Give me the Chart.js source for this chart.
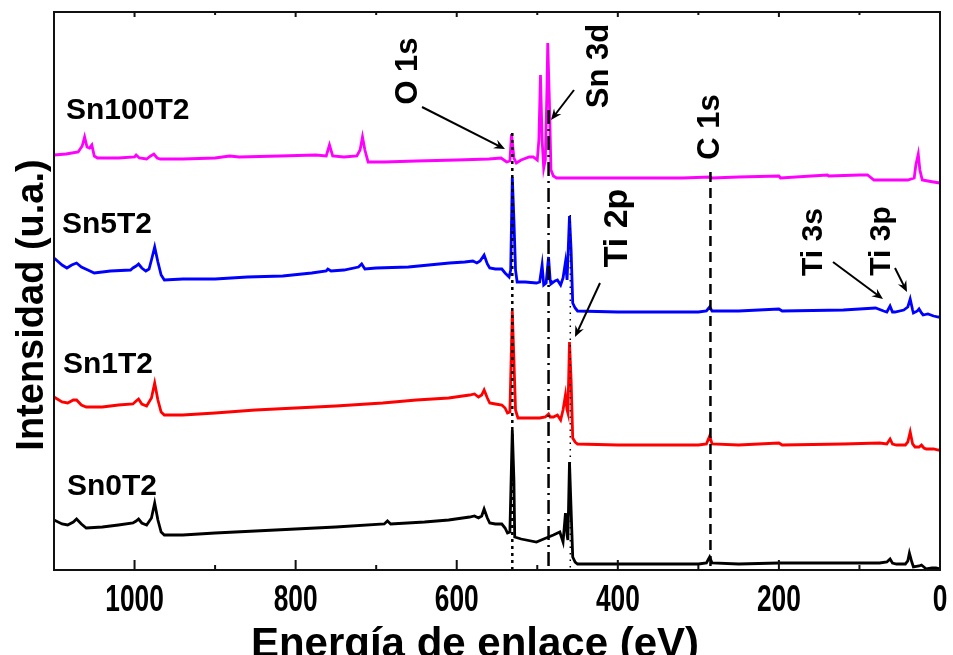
<!DOCTYPE html>
<html>
<head>
<meta charset="utf-8">
<script src="https://cdn.jsdelivr.net/npm/chart.js@4.4.1/dist/chart.umd.min.js"></script>
<style>
  html, body { margin: 0; padding: 0; background: #fff; }
  #xps { display: block; }
</style>
</head>
<body>
<canvas id="xps" width="953" height="655"></canvas>
<script>
// binding energy (eV) vs intensity (a.u., stacked offsets)
const sn100T2 = [[1100,415],[1085,416],[1070,418],[1065,424],[1062,433],[1059,423],[1056,422],[1053,425],[1050,414],[1046,412],[1020,412],[1000,413],[998,415],[994,412],[985,411],[980,414],[976,416],[972,412],[968,411],[940,411],[900,412],[882,414],[870,413],[820,414],[775,415],[762,414],[758,425],[754,414],[740,413],[724,414],[720,420],[717,433],[714,420],[710,408],[690,408],[650,409],[600,410],[560,411],[545,412],[538,408],[534,409],[532,436],[529,412],[526,407],[520,410],[510,413],[505,413],[500,410],[498,430],[496,495],[494,430],[492,402],[490,410],[488,480],[487,527],[485,470],[483,400],[480,394],[476,392],[440,392],[400,392],[320,392],[285,393],[283,392],[250,393],[200,394],[198,392],[140,395],[138,394],[100,395],[90,395],[82,390],[40,390],[32,392],[30,405],[27,416],[25,400],[22,390],[15,389],[8,388],[0,387]];

const sn5T2 = [[1100,312],[1090,305],[1084,302],[1078,305],[1072,307],[1066,303],[1058,300],[1050,297],[1030,299],[1005,300],[1002,302],[998,304],[995,306],[991,302],[986,299],[982,301],[979,310],[975,323],[971,308],[967,295],[963,290],[940,291],[900,291],[860,293],[816,294],[780,297],[762,299],[760,301],[756,299],[740,300],[722,303],[718,306],[714,301],[700,302],[660,303],[609,307],[590,308],[580,309],[575,307],[571,309],[566,315],[562,306],[559,302],[552,301],[544,301],[540,297],[535,293],[533,300],[531,393],[529,350],[527,300],[525,288],[515,288],[501,287],[497,288],[494,305],[492,285],[489,287],[486,313],[484,290],[483,286],[478,289],[475,290],[471,285],[468,292],[465,308],[463,290],[462,290],[460,354],[458,320],[456,267],[453,262],[450,259],[400,258],[300,258],[290,259],[286,263],[283,259],[250,259],[200,261],[196,259],[120,260],[80,262],[70,259],[66,258],[62,264],[59,258],[56,258],[45,260],[40,263],[37,271],[34,260],[33,257],[28,259],[26,261],[23,257],[21,255],[15,256],[8,254],[2,253],[0,253]];

const sn1T2 = [[1100,173],[1090,168],[1083,167],[1076,170],[1072,170],[1066,165],[1060,163],[1040,163],[1020,165],[1002,166],[998,169],[995,171],[991,166],[985,164],[979,172],[975,187],[971,170],[967,158],[963,155],[940,155],[900,157],[850,160],[800,162],[750,164],[692,167],[650,170],[610,172],[584,175],[578,176],[573,173],[569,175],[566,180],[562,172],[559,167],[552,166],[544,165],[540,162],[537,157],[534,158],[531,259],[529,210],[527,160],[524,152],[510,152],[497,152],[490,153],[486,156],[484,153],[480,153],[475,155],[471,150],[468,160],[465,175],[463,160],[462,157],[460,228],[458,190],[456,132],[453,128],[450,126],[400,125],[300,125],[290,126],[286,134],[283,126],[250,125],[200,127],[196,125],[120,126],[75,127],[66,126],[62,131],[59,126],[54,125],[43,125],[40,128],[37,138],[34,126],[31,123],[26,123],[23,125],[20,122],[17,121],[8,121],[2,120],[0,120]];

const sn0T2 = [[1100,50],[1090,46],[1083,45],[1076,48],[1072,51],[1066,46],[1060,42],[1040,43],[1020,45],[1002,47],[998,49],[995,51],[991,47],[985,45],[979,52],[975,67],[971,50],[967,38],[963,35],[940,35],[900,37],[850,39],[800,41],[750,43],[690,46],[686,49],[682,46],[640,48],[610,50],[584,53],[578,54],[573,52],[569,54],[566,61],[562,52],[559,47],[552,46],[544,46],[540,42],[537,37],[534,38],[531,140],[529,90],[528,33],[520,31],[501,28],[495,30],[486,33],[480,35],[472,38],[468,28],[465,57],[463,35],[462,30],[460,108],[458,60],[456,13],[453,8],[450,6],[400,6],[300,6],[290,7],[286,13],[283,7],[250,6],[200,7],[120,7],[75,7],[66,8],[62,11],[59,7],[54,6],[43,6],[40,9],[38,17],[35,8],[33,3],[26,4],[23,5],[20,3],[17,1],[10,2],[5,2],[0,1]];

const seriesNames = ['Sn100T2', 'Sn5T2', 'Sn1T2', 'Sn0T2'];
const seriesColors = ['#ff00ff', '#0000ff', '#ff0000', '#000000'];

// reference lines: peak name, energy (eV), top of line (a.u.)
const peakNames = ['O 1s', 'Sn 3d', 'Ti 2p', 'C 1s'];
const peakEnergies = [531, 486, 459, 285];
const peakLineTops = [437, 460, 355, 398];

const xTickValues = [1000, 800, 600, 400, 200, 0];
const xTitle = 'Energía de enlace (eV)';
const yTitle = 'Intensidad (u.a.)';

const toPoints = arr => arr.map(p => ({ x: p[0], y: p[1] }));

const font = 'Liberation Sans, Arial, sans-serif';

const xpsExtras = {
    id: 'xpsExtras',
    afterDatasetsDraw(chart) {
        const { ctx, chartArea: a, scales: { x, y } } = chart;
        ctx.save();

        // vertical peak lines
        const dashes = [[3, 4], [14, 5, 2, 5], [1.5, 5], [10, 6]];
        const widths = [2.5, 2.5, 1.5, 2.5];
        peakEnergies.forEach((e, i) => {
            const px = x.getPixelForValue(e);
            ctx.beginPath();
            ctx.setLineDash(dashes[i]);
            ctx.lineWidth = widths[i];
            ctx.strokeStyle = '#000';
            ctx.moveTo(px, y.getPixelForValue(peakLineTops[i]));
            ctx.lineTo(px, a.bottom);
            ctx.stroke();
        });
        ctx.setLineDash([]);

        // frame
        ctx.lineWidth = 2;
        ctx.strokeStyle = '#111';
        ctx.strokeRect(a.left, a.top, a.right - a.left, a.bottom - a.top);

        // ticks pointing inward
        for (let v = 0; v <= 1100; v += 100) {
            const px = x.getPixelForValue(v);
            const major = v % 200 === 0;
            ctx.beginPath();
            ctx.moveTo(px, a.bottom);
            ctx.lineTo(px, a.bottom - (major ? 10 : 5));
            ctx.moveTo(px, a.top);
            ctx.lineTo(px, a.top + (major ? 5 : 3));
            ctx.stroke();
        }

        // condensed tick labels on the x scale
        ctx.fillStyle = '#000';
        ctx.textAlign = 'center';
        ctx.textBaseline = 'alphabetic';
        ctx.font = 'bold 36px ' + font;
        xTickValues.forEach(v => {
            ctx.save();
            ctx.translate(x.getPixelForValue(v), 611);
            ctx.scale(0.73, 1);
            ctx.fillText(String(v), 0, 0);
            ctx.restore();
        });

        // axis titles
        ctx.font = 'bold 42px ' + font;
        ctx.fillText(xTitle, 475, 657);
        ctx.save();
        ctx.translate(43, 305);
        ctx.rotate(-Math.PI / 2);
        ctx.font = 'bold 38px ' + font;
        ctx.fillText(yTitle, 0, 0);
        ctx.restore();

        // series labels
        ctx.font = 'bold 30px ' + font;
        ctx.textAlign = 'left';
        const labelPos = [[66, 119], [62, 233], [63, 373], [67, 495]];
        seriesNames.forEach((n, i) => ctx.fillText(n, labelPos[i][0], labelPos[i][1]));

        // rotated peak annotations: text, baseline x, centre y, size
        const notes = [
            ['O 1s', 417, 71, 31],
            ['Sn 3d', 608, 66, 31],
            ['C 1s', 719, 127, 31],
            ['Ti 2p', 627, 228, 34],
            ['Ti 3s', 822, 242, 30],
            ['Ti 3p', 890, 241, 30]
        ];
        ctx.textAlign = 'center';
        notes.forEach(([t, bx, cy, s]) => {
            ctx.save();
            ctx.translate(bx, cy);
            ctx.rotate(-Math.PI / 2);
            ctx.font = 'bold ' + s + 'px ' + font;
            ctx.fillText(t, 0, 0);
            ctx.restore();
        });

        // arrows
        const arrows = [
            [422, 107, 505, 149],
            [574, 90, 551, 120],
            [600, 283, 575, 337],
            [833, 262, 883, 299],
            [895, 268, 907, 292]
        ];
        ctx.lineWidth = 2;
        ctx.strokeStyle = '#000';
        arrows.forEach(([x1, y1, x2, y2]) => {
            const ang = Math.atan2(y2 - y1, x2 - x1);
            const hl = 12, hw = 0.4;
            ctx.beginPath();
            ctx.moveTo(x1, y1);
            ctx.lineTo(x2 - Math.cos(ang) * 6, y2 - Math.sin(ang) * 6);
            ctx.stroke();
            ctx.beginPath();
            ctx.moveTo(x2, y2);
            ctx.lineTo(x2 - hl * Math.cos(ang - hw), y2 - hl * Math.sin(ang - hw));
            ctx.lineTo(x2 - hl * 0.6 * Math.cos(ang), y2 - hl * 0.6 * Math.sin(ang));
            ctx.lineTo(x2 - hl * Math.cos(ang + hw), y2 - hl * Math.sin(ang + hw));
            ctx.closePath();
            ctx.fill();
        });

        ctx.restore();
    }
};

const ctx = document.getElementById('xps').getContext('2d');
const xpsChart = new Chart(ctx, {
    type: 'line',
    data: {
        datasets: [sn100T2, sn5T2, sn1T2, sn0T2].map((s, i) => ({
            label: seriesNames[i],
            data: toPoints(s),
            borderColor: seriesColors[i],
            borderWidth: 2.8,
            pointRadius: 0,
            tension: 0,
            fill: false
        }))
    },
    options: {
        responsive: false,
        animation: false,
        layout: { padding: { top: 12, right: 13, left: 0, bottom: 0 } },
        plugins: {
            legend: { display: false },
            tooltip: { enabled: false }
        },
        scales: {
            x: {
                type: 'linear',
                reverse: true,
                min: 0,
                max: 1100,
                afterFit: s => { s.height = 85; },
                grid: { display: false, drawTicks: false },
                border: { display: false },
                ticks: { display: false }
            },
            y: {
                min: 0,
                max: 558,
                afterFit: s => { s.width = 54; },
                grid: { display: false, drawTicks: false },
                border: { display: false },
                ticks: { display: false }
            }
        }
    },
    plugins: [xpsExtras]
});
</script>
</body>
</html>
